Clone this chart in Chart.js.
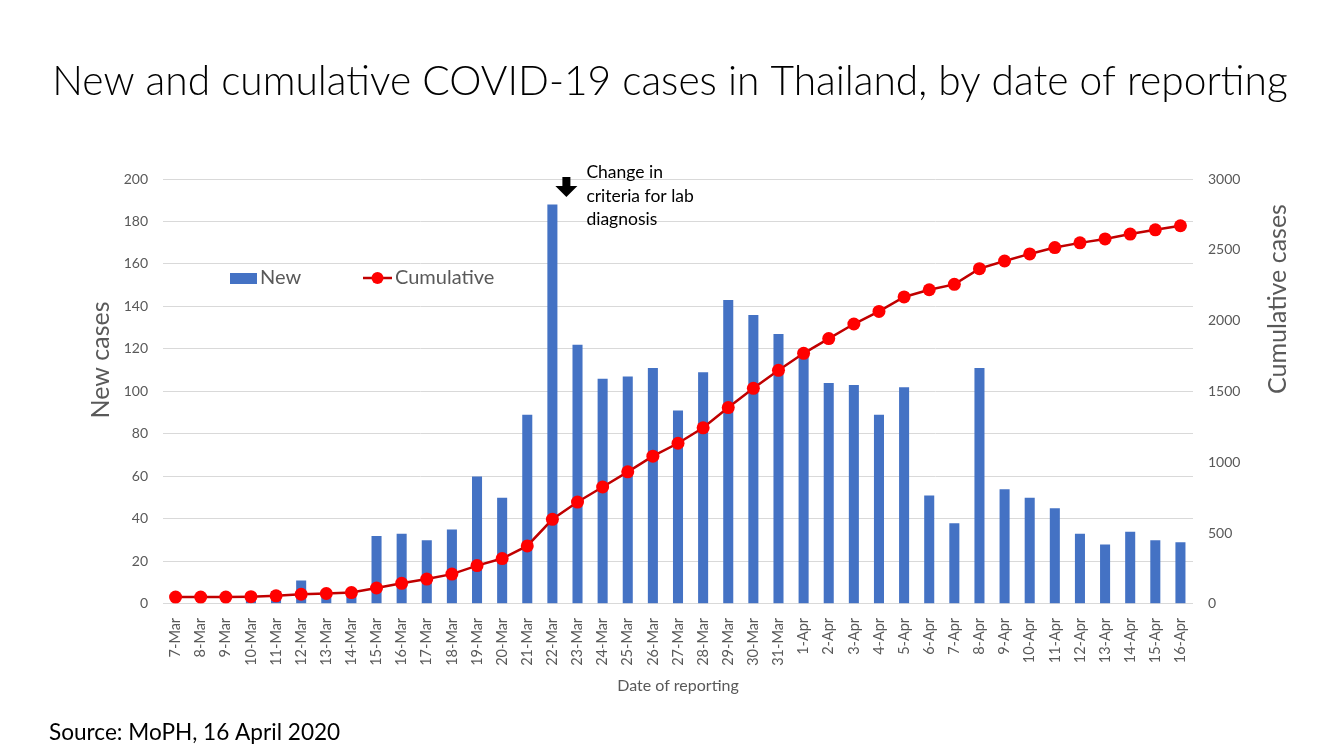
<!DOCTYPE html>
<html>
<head>
<meta charset="utf-8">
<script src="https://cdn.jsdelivr.net/npm/chart.js@4.4.1/dist/chart.umd.min.js"></script>
<style>
  html, body { margin: 0; padding: 0; background: #fff; }
  #wrap { position: relative; width: 1333px; height: 750px; }
</style>
</head>
<body>
<div id="wrap"><canvas id="myChart"></canvas></div>
<script>
const dates = [
  "7-Mar", "8-Mar", "9-Mar", "10-Mar", "11-Mar", "12-Mar", "13-Mar", "14-Mar",
  "15-Mar", "16-Mar", "17-Mar", "18-Mar", "19-Mar", "20-Mar", "21-Mar", "22-Mar",
  "23-Mar", "24-Mar", "25-Mar", "26-Mar", "27-Mar", "28-Mar", "29-Mar", "30-Mar",
  "31-Mar", "1-Apr", "2-Apr", "3-Apr", "4-Apr", "5-Apr", "6-Apr", "7-Apr",
  "8-Apr", "9-Apr", "10-Apr", "11-Apr", "12-Apr", "13-Apr", "14-Apr", "15-Apr", "16-Apr"
];
const newCases = [
  0, 0, 0, 3, 6, 11, 5, 7,
  32, 33, 30, 35, 60, 50, 89, 188,
  122, 106, 107, 111, 91, 109, 143, 136,
  127, 120, 104, 103, 89, 102, 51, 38,
  111, 54, 50, 45, 33, 28, 34, 30, 29
];
const cumulativeCases = [
  48, 48, 48, 51, 57, 68, 73, 80,
  112, 145, 175, 210, 270, 320, 409, 597,
  719, 825, 932, 1043, 1134, 1243, 1386, 1522,
  1649, 1769, 1873, 1976, 2065, 2167, 2218, 2256,
  2367, 2421, 2471, 2516, 2549, 2577, 2611, 2641, 2670
];
const newTicks = { min: 0, max: 200, step: 20 };
const cumTicks = { min: 0, max: 3000, step: 500 };

const ctx = document.getElementById("myChart").getContext("2d");
const FONT = "Lato";
const GREY = "#595959";

const rotatedText = (c, text, x, y) => {
  c.save();
  c.translate(x, y);
  c.rotate(-Math.PI / 2);
  c.fillText(text, 0, 0);
  c.restore();
};

// title, source, legend, axis titles and the note about lab criteria
const extras = {
  id: "extras",
  afterDraw(chart) {
    const c = chart.ctx;
    c.save();
    c.fillStyle = "#000";
    c.textBaseline = "alphabetic";
    c.textAlign = "center";
    c.font = `300 40.7px ${FONT}`;
    c.fillText("New and cumulative COVID-19 cases in Thailand, by date of reporting", 670, 95);

    c.textAlign = "left";
    c.font = `22.6px ${FONT}`;
    c.fillText("Source: MoPH, 16 April 2020", 49, 740);

    // axis titles
    c.fillStyle = GREY;
    c.textAlign = "center";
    c.textBaseline = "middle";
    c.font = `25px ${FONT}`;
    rotatedText(c, "New cases", 101, 360);
    rotatedText(c, "Cumulative cases", 1278, 299);

    // legend
    c.textAlign = "left";
    c.fillStyle = "#4472C4";
    c.fillRect(230, 273, 27, 11);
    c.fillStyle = GREY;
    c.font = `20px ${FONT}`;
    c.fillText("New", 260, 278);
    c.strokeStyle = "#C00000";
    c.lineWidth = 2.5;
    c.beginPath();
    c.moveTo(363, 278);
    c.lineTo(392, 278);
    c.stroke();
    c.fillStyle = "#FF0000";
    c.beginPath();
    c.arc(377.5, 278, 6, 0, Math.PI * 2);
    c.fill();
    c.fillStyle = GREY;
    c.fillText("Cumulative", 395, 278);

    // arrow over 22-Mar
    const ax = chart.scales.x.getPixelForValue(dates.indexOf("22-Mar")) + 14;
    c.fillStyle = "#000";
    c.fillRect(ax - 4, 177, 8, 10);
    c.beginPath();
    c.moveTo(ax - 11, 186);
    c.lineTo(ax + 11, 186);
    c.lineTo(ax, 197);
    c.closePath();
    c.fill();
    c.font = `17.5px ${FONT}`;
    c.fillText("Change in", ax + 20, 172);
    c.fillText("criteria for lab", ax + 20, 196);
    c.fillText("diagnosis", ax + 20, 219);
    c.restore();
  },
};

new Chart(ctx, {
  type: "bar",
  data: {
    labels: dates,
    datasets: [
      {
        type: "line",
        label: "Cumulative",
        data: cumulativeCases,
        yAxisID: "y1",
        borderColor: "#C00000",
        borderWidth: 2.5,
        pointRadius: 6.5,
        pointBackgroundColor: "#FF0000",
        pointBorderColor: "#FF0000",
        pointBorderWidth: 0,
        tension: 0,
        order: 0,
      },
      {
        label: "New",
        data: newCases,
        yAxisID: "y",
        backgroundColor: "#4472C4",
        barPercentage: 0.4,
        categoryPercentage: 1,
        order: 1,
      },
    ],
  },
  options: {
    responsive: true,
    maintainAspectRatio: false,
    animation: false,
    layout: { padding: { top: 179, left: 88, right: 42, bottom: 55 } },
    scales: {
      x: {
        grid: { display: false },
        border: { display: false },
        ticks: {
          color: GREY,
          font: { family: FONT, size: 14.5 },
          minRotation: 90,
          maxRotation: 90,
          autoSkip: false,
          padding: 6,
        },
        title: {
          display: true,
          text: "Date of reporting",
          color: GREY,
          font: { family: FONT, size: 16 },
          padding: { top: 4, bottom: 0 },
        },
      },
      y: {
        position: "left",
        min: newTicks.min,
        max: newTicks.max,
        grid: { color: "#D9D9D9", lineWidth: 1, drawTicks: false },
        border: { display: false },
        ticks: {
          stepSize: newTicks.step,
          color: GREY,
          font: { family: FONT, size: 14 },
          padding: 15,
        },
        afterFit(scale) { scale.width = 75; },
      },
      y1: {
        position: "right",
        min: cumTicks.min,
        max: cumTicks.max,
        grid: { display: false, drawTicks: false },
        border: { display: false },
        ticks: {
          stepSize: cumTicks.step,
          color: GREY,
          font: { family: FONT, size: 14 },
          padding: 15,
          callback: (v) => String(v),
        },
        afterFit(scale) { scale.width = 98; },
      },
    },
    plugins: {
      legend: { display: false },
      tooltip: { enabled: false },
    },
  },
  plugins: [extras],
});
</script>
</body>
</html>
